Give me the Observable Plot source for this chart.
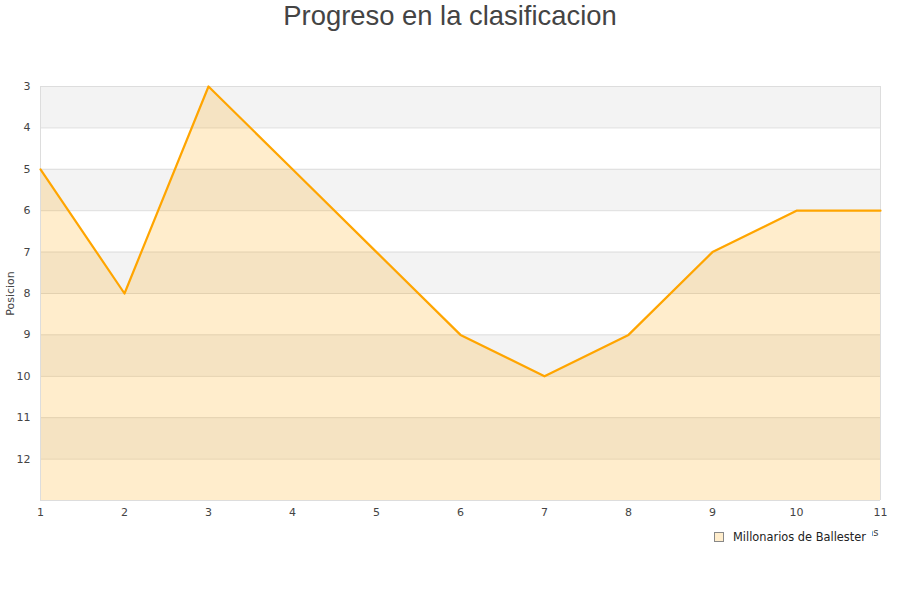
<!DOCTYPE html>
<html><head><meta charset="utf-8">
<script src="https://cdn.jsdelivr.net/npm/d3@7"></script>
<script src="https://cdn.jsdelivr.net/npm/@observablehq/plot@0.6"></script>
<style>
body{margin:0;background:#fff;font-family:"DejaVu Sans",sans-serif;}
#wrap{position:relative;width:900px;height:600px;}
#title{position:absolute;left:0;top:0;width:900px;text-align:center;font-family:"Liberation Sans",Arial,sans-serif;font-size:27.4px;color:#444;line-height:32px;}
#chart{position:absolute;left:0;top:40px;}
#legend{position:absolute;left:712px;top:528px;background:#fff;font-size:11.4px;color:#222;padding:2px 6px 4px 2px;display:flex;align-items:center;}
#legend .sw{width:8px;height:8px;background:#FFEDCC;border:1px solid #888;margin-right:9px;}
</style></head><body>
<div id="wrap">
<div id="title">Progreso en la clasificacion</div>
<div id="chart"></div>
<div id="legend"><span class="sw"></span>Millonarios de Ballester</div>
</div>
<script>
const jornadas = [1,2,3,4,5,6,7,8,9,10,11];
const posiciones = [5,8,3,5,7,9,10,9,7,6,6];
const yTicks = [3,4,5,6,7,8,9,10,11,12];
const gridLines = [3,4,5,6,7,8,9,10,11,12,13];
const bandStarts = [3,5,7,9,11];
const seriesName = "Millonarios de Ballester";

const data = jornadas.map((j,i)=>({j, p: posiciones[i]}));
const bands = bandStarts.map(b=>({y1:b, y2:b+1}));

const plot = Plot.plot({
  width: 900,
  height: 520,
  marginLeft: 40,
  marginRight: 20,
  marginTop: 46,
  marginBottom: 60,
  style: {fontFamily: "DejaVu Sans, sans-serif", fontSize: "11px", color: "#444", background: "transparent"},
  x: {domain: [1, 11], ticks: jornadas, tickSize: 0, tickPadding: 8, tickFormat: d3.format("d"), label: null},
  y: {domain: [3, 13], reverse: true, ticks: yTicks, tickSize: 0, tickPadding: 10, label: null},
  marks: [
    Plot.rect(bands, {x1: 1, x2: 11, y1: "y1", y2: "y2", fill: "#f3f3f3"}),
    Plot.ruleY(gridLines, {stroke: "#dddddd", strokeWidth: 1}),
    Plot.areaY(data, {x: "j", y1: 13, y2: "p", fill: "#FFA500", fillOpacity: 0.2}),
    Plot.ruleX([1, 11], {stroke: "#dddddd"}),
    Plot.lineY(data, {x: "j", y: "p", stroke: "#FFA500", strokeWidth: 2.2}),
    Plot.axisX({ticks: jornadas, tickSize: 0, tickPadding: 8, tickFormat: d3.format("d"), label: null}),
    Plot.axisY({ticks: yTicks, tickSize: 0, tickPadding: 10, label: null}),
    Plot.text(["Posicion"], {frameAnchor: "left", textAnchor: "middle", dx: -30, rotate: -90, fontSize: 11, fill: "#444"}),
    Plot.text(["Jornadas"], {frameAnchor: "bottom-right", dy: 35, dx: -2, textAnchor: "end", fontSize: 10, fill: "#444"})
  ]
});
document.getElementById("chart").appendChild(plot);
</script>
</body></html>
